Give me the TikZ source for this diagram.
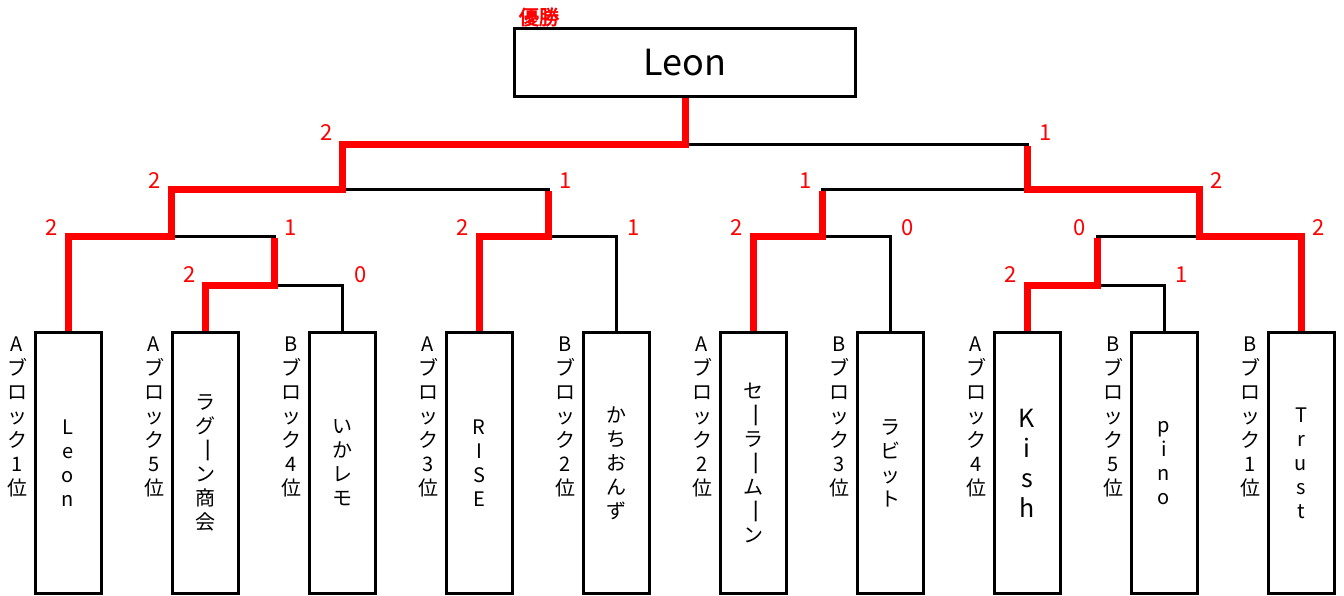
\documentclass[tikz,border=0pt]{standalone}
\usepackage{fontspec}
\usepackage{graphicx}
\setmainfont{Noto Sans CJK JP}
\newfontfamily\jpbold[FakeBold=3]{Noto Sans CJK JP}
\newcommand{\cho}{\raisebox{3pt}{\rotatebox[origin=c]{-90}{\scalebox{1.3}[1]{ー}}}}
\begin{document}
\begin{tikzpicture}[x=1pt,y=-1pt,
  team/.style={draw, line width=3pt, minimum width=66pt, minimum height=261pt, inner sep=0pt, align=center, font=\fontsize{20}{24}\selectfont},
  champ/.style={draw, line width=3pt, minimum width=341pt, minimum height=68pt, inner sep=0pt, font=\fontsize{36}{40}\selectfont},
  blocklabel/.style={inner sep=0pt, align=center, font=\fontsize{20}{24}\selectfont},
  score/.style={text=red, inner sep=0pt, font=\fontsize{22}{24}\selectfont},
  conn/.style={line width=3pt},
  win/.style={line width=7pt, red},
]
\useasboundingbox (0,0) rectangle (1344,596);

% champion box
\node[champ] (F) at (685,62.5) {Leon};
\node[text=red, inner sep=0pt, font=\jpbold\fontsize{20}{20}\selectfont] (yusho) at (539,17) {優勝};

% team boxes
\node[team] (b1) at (68,463) {L\\e\\o\\n};
\node[team] (b2) at (205,463) {ラ\\グ\\\cho\\ン\\商\\会};
\node[team] (b3) at (342,463) {い\\か\\レ\\モ};
\node[team] (b4) at (479,463) {R\\I\\S\\E};
\node[team] (b5) at (616,463) {か\\ち\\お\\ん\\ず};
\node[team] (b6) at (753,463) {セ\\\cho\\ラ\\\cho\\ム\\\cho\\ン};
\node[team] (b7) at (890,463) {ラ\\ビ\\ッ\\ト};
\node[team, font=\fontsize{25}{30}\selectfont] (b8) at (1027,463) {K\\i\\s\\h};
\node[team] (b9) at (1164,463) {p\\i\\n\\o};
\node[team] (b10) at (1301,463) {T\\r\\u\\s\\t};

% block labels
\node[blocklabel] (l1) at (17,416.5) {A\\ブ\\ロ\\ッ\\ク\\1\\位};
\node[blocklabel] (l2) at (154,416.5) {A\\ブ\\ロ\\ッ\\ク\\5\\位};
\node[blocklabel] (l3) at (291,416.5) {B\\ブ\\ロ\\ッ\\ク\\4\\位};
\node[blocklabel] (l4) at (428,416.5) {A\\ブ\\ロ\\ッ\\ク\\3\\位};
\node[blocklabel] (l5) at (565,416.5) {B\\ブ\\ロ\\ッ\\ク\\2\\位};
\node[blocklabel] (l6) at (702,416.5) {A\\ブ\\ロ\\ッ\\ク\\2\\位};
\node[blocklabel] (l7) at (839,416.5) {B\\ブ\\ロ\\ッ\\ク\\3\\位};
\node[blocklabel] (l8) at (976,416.5) {A\\ブ\\ロ\\ッ\\ク\\4\\位};
\node[blocklabel] (l9) at (1113,416.5) {B\\ブ\\ロ\\ッ\\ク\\5\\位};
\node[blocklabel] (l10) at (1250,416.5) {B\\ブ\\ロ\\ッ\\ク\\1\\位};

% junctions
\coordinate (m1) at (171,237);
\coordinate (m2) at (274,285);
\coordinate (m3) at (548,237);
\coordinate (s1) at (342,190);
\coordinate (m4) at (822,237);
\coordinate (m5) at (1097,285);
\coordinate (m6) at (1199,237);
\coordinate (s2) at (1027,190);
\coordinate (f) at (685,145);

% black bracket lines
\draw[conn] (b2.north) |- (m2) -| (b3.north);
\draw[conn] (b1.north) |- (m1) -| (m2);
\draw[conn] (b4.north) |- (m3) -| (b5.north);
\draw[conn] (m1) |- (s1) -| (m3);
\draw[conn] (b6.north) |- (m4) -| (b7.north);
\draw[conn] (b8.north) |- (m5) -| (b9.north);
\draw[conn] (m5) |- (m6) -| (b10.north);
\draw[conn] (m4) |- (s2) -| (m6);
\draw[conn] (s1) |- (f) -| (s2);

% winner lines
\draw[win] (b1.north) |- (m1) |- (s1) |- (f) -- (F.south);
\draw[win] (b2.north) |- (m2) -- ([yshift=-1.5pt]m2 |- m1);
\draw[win] (b4.north) |- (m3) -- ([yshift=-1.5pt]m3 |- s1);
\draw[win] (b6.north) |- (m4) -- ([yshift=-1.5pt]m4 |- s2);
\draw[win] (b8.north) |- (m5) -- ([yshift=-1.5pt]m5 |- m6);
\draw[win] (b10.north) |- (m6) |- (s2) -- ([yshift=-1.5pt]s2 |- f);

% scores
\node[score] (c1) at (327,133) {2};
\node[score] (c2) at (1046,133) {1};
\node[score] (c3) at (155,181) {2};
\node[score] (c4) at (566,181) {1};
\node[score] (c5) at (806,181) {1};
\node[score] (c6) at (1217,181) {2};
\node[score] (c7) at (52,228) {2};
\node[score] (c8) at (291,228) {1};
\node[score] (c9) at (463,228) {2};
\node[score] (c10) at (634,228) {1};
\node[score] (c11) at (737,228) {2};
\node[score] (c12) at (908,228) {0};
\node[score] (c13) at (1080,228) {0};
\node[score] (c14) at (1319,228) {2};
\node[score] (c15) at (190,275) {2};
\node[score] (c16) at (361,275) {0};
\node[score] (c17) at (1011,275) {2};
\node[score] (c18) at (1182,275) {1};
\end{tikzpicture}
\end{document}
